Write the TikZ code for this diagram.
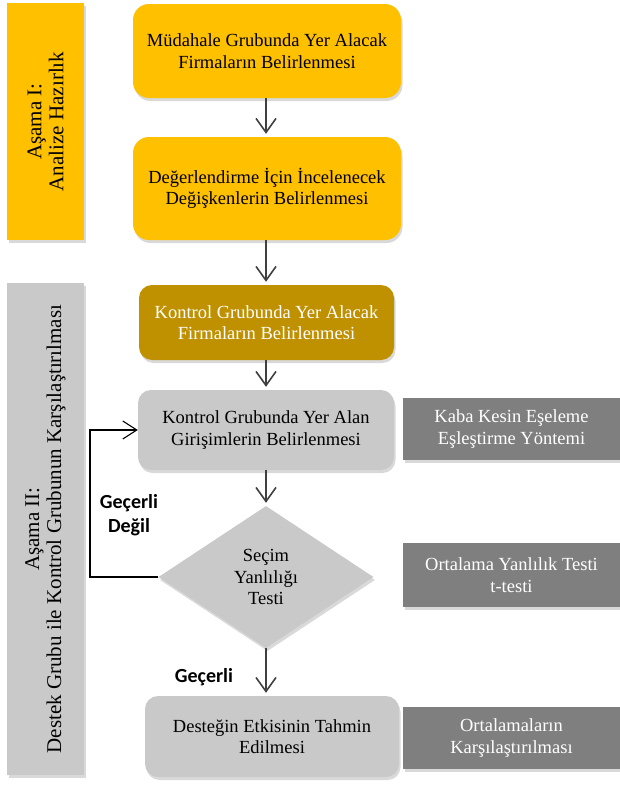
\documentclass[tikz,border=0pt]{standalone}
\usepackage{fontspec}
\setmainfont{Liberation Serif}
\newfontfamily\serfont{Liberation Serif}
\newfontfamily\lblfont{Carlito}
\usetikzlibrary{shapes.geometric,shadows,arrows.meta}
\definecolor{ylw}{HTML}{FFC000}
\definecolor{gld}{HTML}{BF9000}
\definecolor{lgr}{HTML}{C9C9C9}
\definecolor{dgr}{HTML}{7F7F7F}
\definecolor{arr}{HTML}{404040}
\tikzset{
  shd/.style={drop shadow={opacity=0.3,shadow xshift=1.5pt,shadow yshift=-3pt}},
  boxtxt/.style={font=\serfont\fontsize{18.5}{21.5}\selectfont,align=center,inner sep=0pt},
  rbox/.style={boxtxt,shd,rectangle,rounded corners=13pt,minimum width=#1},
  sidebox/.style={shd,rectangle,fill=#1,minimum width=77pt,inner sep=0pt},
  rightbox/.style={boxtxt,shd,rectangle,fill=dgr,text=white,minimum width=217pt},
  flow/.style={draw=arr,line width=1.6pt,-{Straight Barb[length=14pt,width=20pt]},shorten >=3pt},
  loopln/.style={draw=black,line width=1.1pt,-{Straight Barb[length=14pt,width=18pt,line width=1.1pt]}},
  lbl/.style={font=\lblfont\bfseries\fontsize{20}{24}\selectfont,align=center,inner sep=0pt},
  sidetxt/.style={font=\serfont\fontsize{21}{22}\selectfont,align=center,rotate=90,inner sep=0pt}
}
\begin{document}
\begin{tikzpicture}[x=1pt,y=-1pt]
\useasboundingbox (0,0) rectangle (620,787);
% side bars
\node[sidebox=ylw,minimum height=237pt] (s1) at (45.5,121.5) {};
\node[sidetxt] (s1t) at (s1.center) {Aşama I:\\Analize Hazırlık};
\node[sidebox=lgr,minimum height=492pt] (s2) at (45.5,529) {};
\node[sidetxt] (s2t) at (s2.center) {Aşama II:\\Destek Grubu ile Kontrol Grubunun Karşılaştırılması};
% main column
\node[rbox=268pt,fill=ylw,minimum height=94pt,rounded corners=16pt] (b1) at (267,51) {Müdahale Grubunda Yer Alacak\\Firmaların Belirlenmesi};
\node[rbox=268pt,fill=ylw,minimum height=103pt,rounded corners=16pt] (b2) at (267,188.5) {Değerlendirme İçin İncelenecek\\Değişkenlerin Belirlenmesi};
\node[rbox=255pt,fill=gld,text=white,minimum height=75pt] (b3) at (266.5,322.5) {Kontrol Grubunda Yer Alacak\\Firmaların Belirlenmesi};
\node[rbox=256pt,fill=lgr,minimum height=80pt] (b4) at (266,430) {Kontrol Grubunda Yer Alan\\Girişimlerin Belirlenmesi};
\node[boxtxt,shd,diamond,fill=lgr,minimum width=215pt,minimum height=142pt,aspect=1.51] (d) at (266,577) {Seçim\\Yanlılığı\\Testi};
\node[rbox=254pt,fill=lgr,minimum height=81pt] (b5) at (272,736.5) {Desteğin Etkisinin Tahmin\\Edilmesi};
% right boxes
\node[rightbox,minimum height=62pt] (ra) at (511.5,429) {Kaba Kesin Eşeleme\\Eşleştirme Yöntemi};
\node[rightbox,minimum height=64pt] (rb) at (511.5,575) {Ortalama Yanlılık Testi\\t-testi};
\node[rightbox,minimum height=62pt] (rc) at (511.5,738) {Ortalamaların\\Karşılaştırılması};
% arrows
\coordinate (ax) at (266,0);
\draw[flow] (b1.south -| ax) -- (b2.north -| ax);
\draw[flow] (b2.south -| ax) -- (b3.north -| ax);
\draw[flow] (b3.south -| ax) -- (b4.north -| ax);
\draw[flow] (b4.south -| ax) -- (d.north);
\draw[flow] (d.south) -- (b5.north -| d.south);
\coordinate (lp) at (90,0);
\draw[loopln] (d.west) -- (d.west -| lp) |- (b4.west);
% labels
\node[lbl] (l1) at (129,515) {Geçerli\\Değil};
\node[lbl] (l2) at (204,677) {Geçerli};
\end{tikzpicture}
\end{document}
